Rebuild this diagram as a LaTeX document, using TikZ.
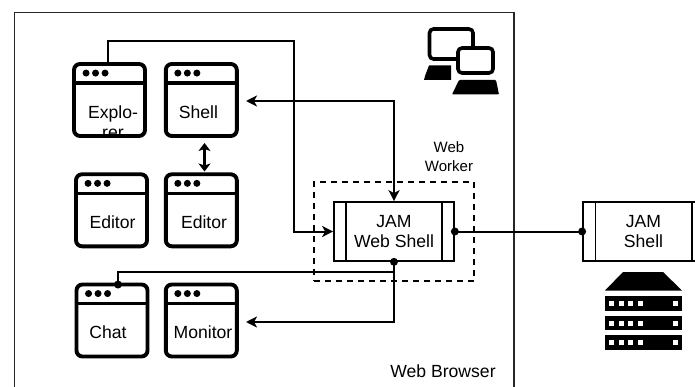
\documentclass[tikz,border=0pt]{standalone}
\usepackage{fontspec}
\setmainfont{Liberation Sans}
\usetikzlibrary{arrows.meta,calc}
\tikzset{
  x=1pt,y=-1pt,
  lbl/.style={inner sep=0pt,align=center,font=\fontsize{17.6}{20}\selectfont},
  lblsm/.style={inner sep=0pt,align=center,font=\fontsize{15}{19}\selectfont},
  win/.style={draw=black,line width=3.9pt,rounded corners=6pt,fill=white,minimum width=#1,minimum height=72pt,inner sep=0pt},
  win/.default=71pt,
  hdr/.style={black,line width=3.6pt},
  dotw/.style={fill=black,draw=none,circle,minimum size=7pt,inner sep=0pt},
  conn/.style={draw=black,line width=2pt},
  tip/.style={-{Stealth[length=11pt,width=11pt,inset=3pt]}},
  tips/.style={{Stealth[length=11pt,width=11pt,inset=3pt]}-{Stealth[length=11pt,width=11pt,inset=3pt]}},
  ball/.style={circle,fill=black,draw=none,minimum size=8pt,inner sep=0pt},
  proc/.style={draw=black,line width=1.7pt,fill=white,inner sep=0pt},
  rackbar/.style={fill=black,draw=none},
  hole/.style={fill=white,draw=none},
}
\newcommand{\windowat}[4]{% name, cx, cy, width
  \node[win=#4] (#1) at (#2,#3) {};
  \draw[hdr] ($(#1.north west)+(0,21)$) -- ($(#1.north east)+(0,21)$);
  \foreach \k in {0,1,2}{\node[dotw] at ($(#1.north west)+(14+9.5*\k,11)$) {};}
}
\begin{document}
\begin{tikzpicture}
\useasboundingbox (0,0) rectangle (695,387);
\clip (0,0) rectangle (695,387);
% browser
\draw[line width=1.9pt,black!85] (14.5,400) -- (14.5,12.5) -- (514,12.5) -- (514,400);
% windows
\windowat{exp}{109.5}{100}{71pt}
\windowat{shl}{201.3}{100}{71pt}
\windowat{edl}{111.5}{210.3}{71pt}
\windowat{edr}{201.3}{210.3}{71pt}
\windowat{cht}{112}{320.5}{71pt}
\windowat{mon}{201.3}{320.5}{71pt}
\begin{scope}
  \clip (75,86) rectangle (144,135.5);
  \node[lbl] (texp) at (113,122) {Explo-\\rer};
\end{scope}
\node[lbl] (tshl) at (198.5,112) {Shell};
\node[lbl] (tedl) at (112.5,222) {Editor};
\node[lbl] (tedr) at (204,222) {Editor};
\node[lbl] (tcht) at (108,332) {Chat};
\node[lbl] (tmon) at (203,332) {Monitor};
% dashed worker
\node[draw=black,line width=1.7pt,dash pattern=on 6pt off 5pt,minimum width=160pt,minimum height=99pt,inner sep=0pt] (wrk) at (394,231.5) {};
\node[lblsm] (twrk) at (449,156.5) {Web\\Worker};
% JAM Web Shell
\node[proc,minimum width=120pt,minimum height=59pt] (jws) at (394,231.5) {};
\draw[line width=1.7pt] (346,202) -- (346,261) (442,202) -- (442,261);
\node[lbl] (tjws) at (394,231.5) {JAM\\Web Shell};
% JAM Shell
\node[proc,minimum width=121pt,minimum height=59pt] (js) at (643.5,231.5) {};
\draw[line width=1.7pt] (595.5,202) -- (595.5,261) (692,202) -- (692,261);
\node[lbl] (tjs) at (643.5,231.5) {JAM\\Shell};
% connectors
\coordinate (shr) at (246,101);
\coordinate (monr) at (246,322);
\draw[conn,tip] ([xshift=-1.5pt]exp.north) -- ++(0,-21) -| (294,231.5) -- (jws.west);
\draw[conn,tips] (shr) -| (jws.north);
\draw[conn] (jws.east) -- (js.west);
\draw[conn,tip] (jws.south) |- (monr);
\draw[conn] (394,272) -| ([xshift=6pt]cht.north);
\node[ball] (b1) at (jws.east) {};
\node[ball] (b2) at (jws.south) {};
\node[ball] (b3) at (js.west) {};
\node[ball] (b4) at ([xshift=6pt,yshift=-2pt]cht.north) {};
\draw[line width=2.6pt,{Stealth[length=8pt,width=12pt,inset=2pt]}-{Stealth[length=8pt,width=12pt,inset=2pt]}] (204.5,143) -- (204.5,171.5);
\node[lbl] (tbr) at (443,371.5) {Web Browser};
% computers
\draw[line width=3.6pt,rounded corners=4pt,fill=white] (429.5,29) rectangle (473,59);
\draw[line width=3.6pt,rounded corners=4pt,fill=white] (458,48) rectangle (493,73);
\fill (425,76) -- (429,65.5) -- (451,65.5) -- (451,80) -- (424,80) -- cycle;
\fill[rounded corners=1pt] (452,94.5) -- (459,80) -- (496,80) -- (499,94.5) -- cycle;
% server
\fill (605,290.5) -- (623,272) -- (663,272) -- (682,290.5) -- cycle;
\foreach \ya in {296,315.5,335}{
  \fill[rackbar] (604.5,\ya) rectangle (682,\ya+14.5);
  \foreach \xa in {609,618.5,628,638,673}{
    \fill[hole] (\xa,\ya+5) rectangle (\xa+5,\ya+10);
  }
}
\end{tikzpicture}
\end{document}
